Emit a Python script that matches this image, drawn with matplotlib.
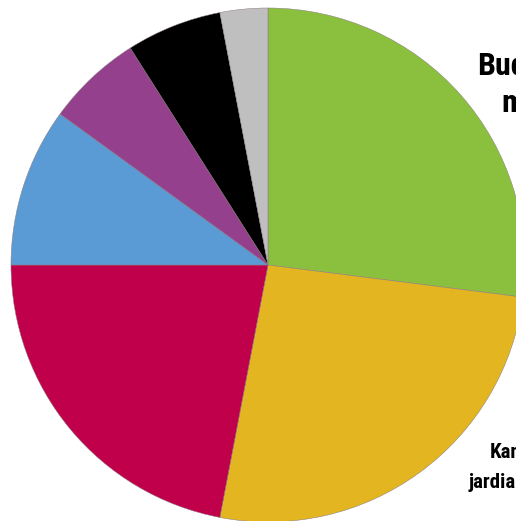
import matplotlib
matplotlib.use('Agg')
import matplotlib.pyplot as plt
from matplotlib import font_manager

# slice shares, clockwise from the top
labels = ['Budovy', 'Kanceláře', 'Průmysl', 'Doprava', 'Zemědělství', 'Energie', 'Ostatní']
values = [27, 26, 22, 10, 6, 6, 3]
colors = ['#8bc03f', '#e3b520', '#c0004a', '#5a9ad5', '#94408d', '#000000', '#bfbfbf']

W, H = 516, 521
fig = plt.figure(figsize=(W / 100, H / 100), dpi=100)
ax = fig.add_axes([0, 0, 1, 1])
ax.set_xlim(0, W)
ax.set_ylim(0, H)
ax.set_aspect('equal')
ax.axis('off')

ax.pie(values, colors=colors, startangle=90, counterclock=False,
       center=(268, H - 265), radius=257,
       wedgeprops=dict(edgecolor='#8a7a80', linewidth=0.35))
ax.set_xlim(0, W)
ax.set_ylim(0, H)

# pick a narrow font if one is installed
names = set(f.name for f in font_manager.fontManager.ttflist)
font = 'DejaVu Sans'
for n in ['Liberation Sans Narrow', 'Roboto Condensed', 'Open Sans Condensed', 'Noto Sans Condensed']:
    if n in names:
        font = n
        break

ax.text(477, H - 75, 'Budovy', fontsize=23, fontweight='bold', family=font,
        fontstretch='condensed', ha='left', va='baseline', clip_on=False)
ax.text(501, H - 112, 'mest', fontsize=23, fontweight='bold', family=font,
        fontstretch='condensed', ha='left', va='baseline', clip_on=False)
ax.text(490, H - 458, 'Kanceláře', fontsize=15, fontweight='bold', family=font,
        fontstretch='condensed', ha='left', va='baseline', clip_on=False)
ax.text(469, H - 488, 'jardiary', fontsize=15, fontweight='bold', family=font,
        fontstretch='condensed', ha='left', va='baseline', clip_on=False)

fig.savefig('out.png', dpi=100)
